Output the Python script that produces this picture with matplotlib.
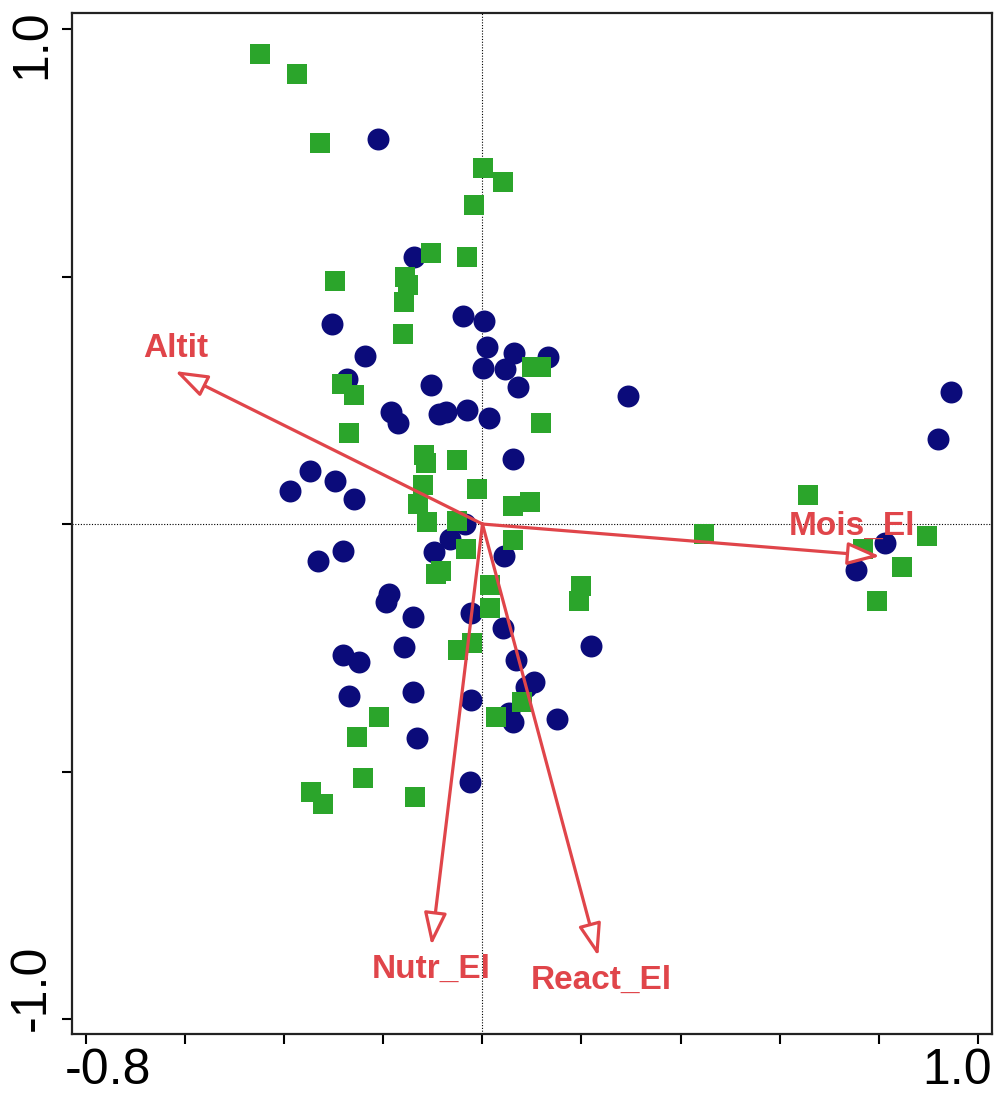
import matplotlib
matplotlib.use('Agg')
import matplotlib.pyplot as plt
from matplotlib.transforms import blended_transform_factory

# ---- data ----
sq_x = [-0.449, -0.375, -0.328, 0.001, 0.041, -0.017, -0.104, -0.031, -0.298, -0.157,
        -0.151, -0.159, -0.161, -0.284, -0.260, 0.100, 0.118, 0.118, -0.270, -0.118,
        -0.114, -0.052, -0.120, -0.011, -0.130, 0.062, 0.096, -0.112, -0.052, 0.062,
        -0.033, -0.084, -0.094, 0.015, 0.015, 0.199, 0.195, -0.049, -0.021, -0.209,
        -0.254, -0.241, -0.346, -0.322, -0.136, 0.080, 0.027, 0.447, 0.658, 0.898,
        0.769, 0.847, 0.797]
sq_y = [0.949, 0.909, 0.770, 0.719, 0.691, 0.644, 0.547, 0.539, 0.491, 0.499,
        0.483, 0.448, 0.384, 0.283, 0.261, 0.317, 0.317, 0.204, 0.184, 0.139,
        0.123, 0.129, 0.079, 0.071, 0.040, 0.036, 0.044, 0.004, 0.006, -0.032,
        -0.051, -0.095, -0.101, -0.123, -0.170, -0.125, -0.156, -0.255, -0.240, -0.390,
        -0.430, -0.513, -0.541, -0.566, -0.552, -0.360, -0.390, -0.020, 0.059, -0.024,
        -0.051, -0.087, -0.156]

ci_x = [-0.211, -0.138, -0.304, -0.039, 0.003, 0.009, 0.064, 0.132, 0.001, 0.045,
        0.072, 0.294, -0.237, -0.274, -0.104, -0.185, -0.171, -0.088, -0.074, -0.031,
        0.013, 0.062, -0.348, -0.389, -0.298, -0.260, -0.035, -0.066, -0.098, -0.332,
        -0.282, -0.189, -0.195, -0.140, -0.023, -0.159, -0.282, -0.249, -0.270, -0.140,
        -0.023, -0.132, -0.025, 0.043, 0.041, 0.219, 0.068, 0.088, 0.104, 0.054,
        0.062, 0.151, 0.946, 0.920, 0.813, 0.755]
ci_y = [0.778, 0.539, 0.404, 0.420, 0.410, 0.358, 0.345, 0.337, 0.315, 0.313,
        0.277, 0.259, 0.339, 0.293, 0.281, 0.226, 0.204, 0.222, 0.226, 0.230,
        0.214, 0.131, 0.107, 0.067, 0.087, 0.051, 0.000, -0.030, -0.057, -0.075,
        -0.055, -0.141, -0.158, -0.188, -0.180, -0.248, -0.265, -0.279, -0.347, -0.339,
        -0.356, -0.432, -0.521, -0.065, -0.210, -0.246, -0.275, -0.329, -0.319, -0.382,
        -0.400, -0.394, 0.267, 0.172, -0.038, -0.093]

env_names = ['Altit', 'Mois_El', 'Nutr_El', 'React_El']
env_x = [-0.621, 0.803, -0.103, 0.234]
env_y = [0.309, -0.065, -0.851, -0.873]
env_lab_x = [-0.619, 0.746, -0.104, 0.241]
env_lab_y = [0.354, -0.004, -0.899, -0.921]

x_ticks = [-0.8, -0.6, -0.4, -0.2, 0.0, 0.2, 0.4, 0.6, 0.8, 1.0]
y_ticks = [-1.0, -0.5, 0.0, 0.5, 1.0]
x_tick_labels = ['-0.8', '1.0']
y_tick_labels = ['1.0', '-1.0']

# ---- style ----
red = '#E0454A'
navy = '#0B0B7A'
green = '#2BA52B'
num_font = ['Liberation Sans Narrow', 'Liberation Sans', 'DejaVu Sans']
lab_font = ['Liberation Sans', 'DejaVu Sans']

fig = plt.figure(figsize=(9.95, 10.93), dpi=100)
ax = fig.add_axes([0.0719, 0.054, 0.925, 0.934])
ax.set_xlim(-0.830, 1.029)
ax.set_ylim(-1.030, 1.032)

ax.axhline(0, color='black', lw=0.8, ls=(0, (1, 1.5)), zorder=1)
ax.axvline(0, color='black', lw=0.8, ls=(0, (1, 1.5)), zorder=1)

ax.scatter(ci_x, ci_y, s=250, marker='o', color=navy, linewidths=0, zorder=3)
ax.scatter(sq_x, sq_y, s=207, marker='s', color=green, linewidths=0, zorder=3)

for name, ex, ey, lx, ly in zip(env_names, env_x, env_y, env_lab_x, env_lab_y):
    ax.annotate('', xy=(ex, ey), xytext=(0, 0),
                arrowprops=dict(arrowstyle='-|>,head_length=20,head_width=7',
                                mutation_scale=1, fc='white', ec=red, lw=2.3,
                                shrinkA=0, shrinkB=0),
                zorder=4)
    ax.text(lx, ly, name, color=red, fontsize=24, fontweight='bold',
            family=lab_font, ha='center', va='center', zorder=5)

ax.set_xticks(x_ticks)
ax.set_yticks(y_ticks)
ax.set_xticklabels([])
ax.set_yticklabels([])
ax.tick_params(direction='out', length=7, width=1.5, color='black')
for sp in ax.spines.values():
    sp.set_linewidth(1.6)
    sp.set_color('#222222')

# tick labels aligned to the axis extents (as in the reference)
bx = blended_transform_factory(ax.transAxes, fig.transFigure)
ax.text(-0.007, 0.020, x_tick_labels[0], transform=bx, ha='left', va='center',
        fontsize=36, family=num_font)
ax.text(1.0, 0.020, x_tick_labels[1], transform=bx, ha='right', va='center',
        fontsize=36, family=num_font)
by = blended_transform_factory(fig.transFigure, ax.transAxes)
ax.text(0.032, 1.004, y_tick_labels[0], transform=by, ha='center', va='top',
        rotation=90, fontsize=36, family=num_font)
ax.text(0.032, 0.003, y_tick_labels[1], transform=by, ha='center', va='bottom',
        rotation=90, fontsize=36, family=num_font)

fig.savefig('out.png', dpi=100, facecolor='white')
